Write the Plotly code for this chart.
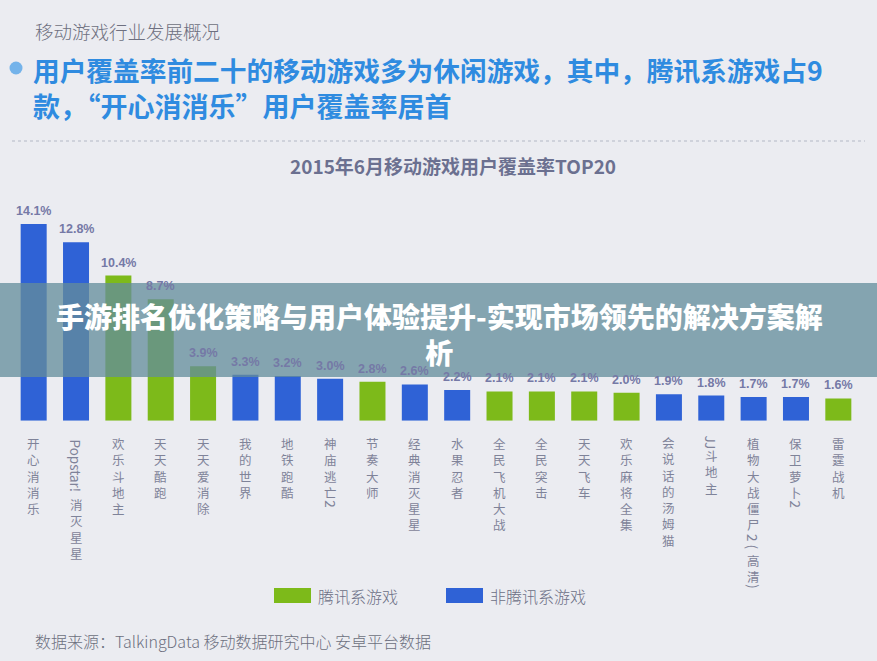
import plotly.graph_objects as go

W, H = 877, 661

# ---------------- data ----------------
categories = ["开心消消乐", "Popstar! 消灭星星", "欢乐斗地主", "天天酷跑", "天天爱消除",
              "我的世界", "地铁跑酷", "神庙逃亡2", "节奏大师", "经典消灭星星",
              "水果忍者", "全民飞机大战", "全民突击", "天天飞车", "欢乐麻将全集",
              "会说话的汤姆猫", "JJ斗地主", "植物大战僵尸2 (高清)", "保卫萝卜2", "雷霆战机"]
values = [14.1, 12.8, 10.4, 8.7, 3.9, 3.3, 3.2, 3.0, 2.8, 2.6,
          2.2, 2.1, 2.1, 2.1, 2.0, 1.9, 1.8, 1.7, 1.7, 1.6]
is_tencent = [False, False, True, True, True, False, False, False, True, False,
              False, True, True, True, True, False, False, False, False, True]
legend_names = ["腾讯系游戏", "非腾讯系游戏"]

# ---------------- style ----------------
BG = "#ebecf1"
GREEN = "#7dba1a"
BLUE = "#2f62d6"
CJK = "Noto Sans CJK SC"
VAL_FONT = "Liberation Sans, Arial, sans-serif"


def px(x):
    return x / W


def py(y):
    return 1 - y / H


base_px = 420.7
top_px = base_px - 15 * 13.95
x_left, x_right = 12.5, 859.5

colors = [GREEN if t else BLUE for t in is_tencent]
labels = [f"{v:.1f}%" for v in values]

fig = go.Figure()
fig.add_trace(go.Bar(
    x=categories, y=values, marker=dict(color=colors, line=dict(width=0)),
    showlegend=False, hoverinfo="skip",
))

annotations = []
shapes = []

# value labels above bars
for cat, v, lab in zip(categories, values, labels):
    annotations.append(dict(x=cat, y=v, xref="x", yref="y", text=lab, showarrow=False,
                            xanchor="center", yanchor="bottom", yshift=4,
                            font=dict(family=VAL_FONT, size=12.5, color="#7579a6",
                                      weight="bold")))

# ---------------- vertical category labels ----------------
def tokens(s):
    out, run = [], ""
    for c in s:
        if "\u4e00" <= c <= "\u9fff":
            if run:
                out.append(("r", run))
                run = ""
            if out and out[-1][0] == "c":
                out[-1] = ("c", out[-1][1] + c)
            else:
                out.append(("c", c))
        else:
            run += c
    if run:
        out.append(("r", run))
    return out


LAB_SIZE = 12
PITCH = LAB_SIZE * 1.3
LAB_COLOR = "#7f8399"
for cat in categories:
    cursor = 16.5
    for kind, tok in tokens(cat):
        if kind == "c":
            seg = len(tok) * PITCH
            annotations.append(dict(x=cat, y=0, xref="x", yref="y",
                                    text="<br>".join(tok),
                                    showarrow=False, xanchor="center", yanchor="middle",
                                    yshift=-(cursor + seg / 2),
                                    font=dict(family=CJK, size=LAB_SIZE + 0.5, color=LAB_COLOR)))
            cursor += seg
        else:
            t = tok.strip()
            lead = len(tok) - len(tok.lstrip())
            trail = len(tok) - len(tok.rstrip())
            cursor += lead * 4
            length = sum(4.5 if ch in "il!tJ()" else 7.6 for ch in t) + 2
            annotations.append(dict(x=cat, y=0, xref="x", yref="y", text=t,
                                    showarrow=False, xanchor="center", yanchor="middle",
                                    textangle=90, yshift=-(cursor + length / 2),
                                    font=dict(family=CJK, size=13.5, color=LAB_COLOR)))
            cursor += length + trail * 4

# ---------------- texts ----------------
annotations.append(dict(x=px(33), y=py(31), xref="paper", yref="paper",
                        text="移动游戏行业发展概况", showarrow=False,
                        xanchor="left", yanchor="middle",
                        font=dict(family=CJK, size=18.5, color="#6e7080", weight=300)))
annotations.append(dict(x=px(31), y=py(69), xref="paper", yref="paper",
                        text="用户覆盖率前二十的移动游戏多为休闲游戏，其中，腾讯系游戏占9",
                        showarrow=False, xanchor="left", yanchor="middle",
                        font=dict(family=CJK, size=26.7, color="#2f8be0", weight="bold")))
annotations.append(dict(x=px(31), y=py(105), xref="paper", yref="paper",
                        text="款，“开心消消乐”用户覆盖率居首",
                        showarrow=False, xanchor="left", yanchor="middle",
                        font=dict(family=CJK, size=27, color="#2f8be0", weight="bold")))
shapes.append(dict(type="circle", xref="paper", yref="paper",
                   x0=px(9.5), x1=px(22.5), y0=py(61.5), y1=py(74.5),
                   fillcolor="#74b3ea", line=dict(width=0)))
shapes.append(dict(type="line", xref="paper", yref="paper",
                   x0=px(12), x1=px(865), y0=py(141), y1=py(141),
                   line=dict(color="#b4b7c6", width=1.2, dash="dot")))
annotations.append(dict(x=px(453), y=py(165), xref="paper", yref="paper",
                        text="2015年6月移动游戏用户覆盖率TOP20", showarrow=False,
                        xanchor="center", yanchor="middle",
                        font=dict(family=CJK, size=19, color="#6b7090", weight="bold")))

# ---------------- legend ----------------
for name, col, x0 in [(legend_names[0], GREEN, 274), (legend_names[1], BLUE, 446)]:
    shapes.append(dict(type="rect", xref="paper", yref="paper",
                       x0=px(x0), x1=px(x0 + 37), y0=py(588), y1=py(603),
                       fillcolor=col, line=dict(width=0)))
    annotations.append(dict(x=px(x0 + 42), y=py(595.5), xref="paper", yref="paper",
                            text=name, showarrow=False, xanchor="left", yanchor="middle",
                            font=dict(family=CJK, size=16, color="#6b6f85", weight=300)))

annotations.append(dict(x=px(33), y=py(641), xref="paper", yref="paper",
                        text="数据来源：TalkingData 移动数据研究中心 安卓平台数据",
                        showarrow=False, xanchor="left", yanchor="middle",
                        font=dict(family=CJK, size=16, color="#6d7080", weight=300)))

# ---------------- overlay banner ----------------
shapes.append(dict(type="rect", xref="paper", yref="paper", layer="above",
                   x0=0, x1=1, y0=py(377), y1=py(283),
                   fillcolor="rgba(100,140,155,0.76)", line=dict(width=0)))
annotations.append(dict(x=px(439), y=py(334), xref="paper", yref="paper",
                        text="手游排名优化策略与用户体验提升-实现市场领先的解决方案解<br>析",
                        showarrow=False, xanchor="center", yanchor="middle", align="center",
                        font=dict(family=CJK, size=28, color="white", weight=900)))

fig.update_layout(
    width=W, height=H, margin=dict(l=0, r=0, t=0, b=0),
    paper_bgcolor=BG, plot_bgcolor=BG,
    bargap=0.386,
    xaxis=dict(domain=[px(x_left), px(x_right)], type="category",
               showticklabels=False, showgrid=False, zeroline=False, showline=False),
    yaxis=dict(domain=[py(base_px), py(top_px)], range=[0, 15],
               showticklabels=False, showgrid=False, zeroline=False, showline=False),
    annotations=annotations, shapes=shapes,
)

fig.write_html("out.html")
